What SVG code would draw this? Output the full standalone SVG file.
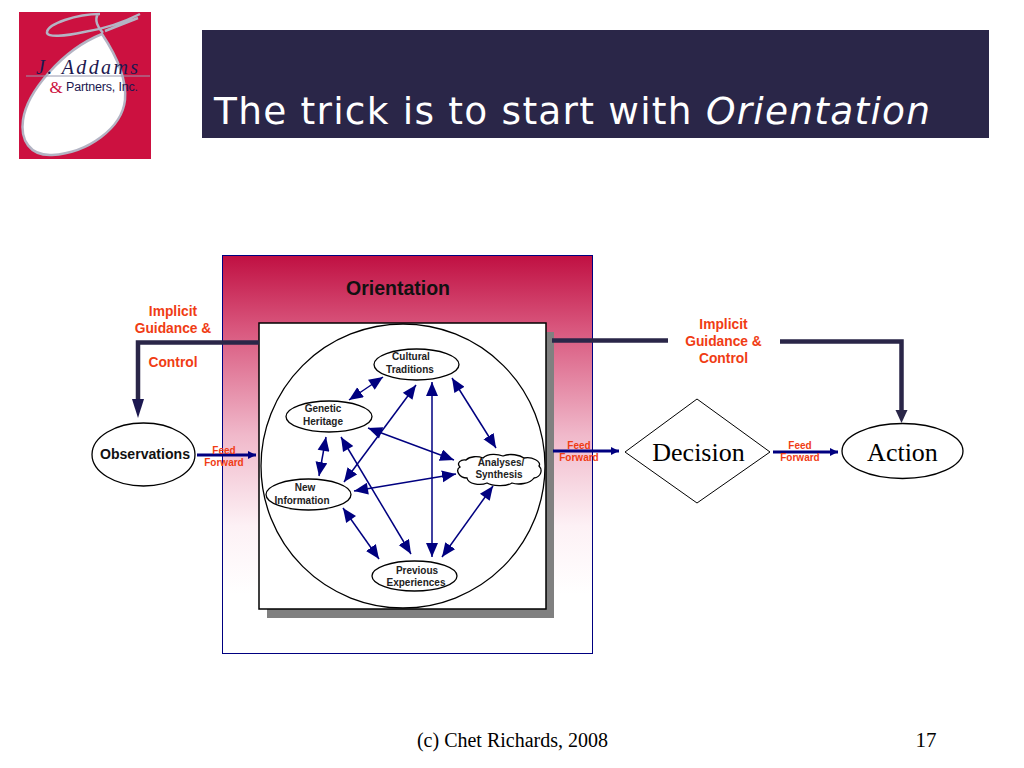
<svg xmlns="http://www.w3.org/2000/svg" width="1024" height="768" viewBox="0 0 1024 768">
<style>
.s{font-family:"Liberation Sans",Arial,sans-serif;font-weight:bold;text-anchor:middle}
.r{font-family:"Liberation Serif","Times New Roman",serif;text-anchor:middle;fill:#000}
.o{fill:#f03c14;font-size:13.800px}
.f{fill:#f03c14;font-size:10px}
.n{fill:#222;font-size:10px}
.e{fill:#fff;stroke:#000;stroke-width:1.300}
.a{stroke:#000080;stroke-width:1.500;fill:none;marker-start:url(#as);marker-end:url(#ae)}
.b{stroke:#000080;stroke-width:3;fill:none;marker-end:url(#bf)}
.g{stroke:#2a2648;stroke-width:4.500;fill:none}
</style>
<defs>
<linearGradient id="grad" x1="0" y1="0" x2="0" y2="1">
<stop offset="0" stop-color="#c01042"/><stop offset="0.18" stop-color="#d8557c"/><stop offset="0.45" stop-color="#f0b8ca"/><stop offset="0.68" stop-color="#fdf1f5"/><stop offset="0.85" stop-color="#ffffff"/>
</linearGradient>
<marker id="ae" markerUnits="userSpaceOnUse" markerWidth="16" markerHeight="13" refX="14" refY="6" orient="auto"><path d="M0 0L14 6L0 12z" fill="#000080"/></marker>
<marker id="as" markerUnits="userSpaceOnUse" markerWidth="16" markerHeight="13" refX="0" refY="6" orient="auto"><path d="M14 0L0 6L14 12z" fill="#000080"/></marker>
<marker id="bf" markerUnits="userSpaceOnUse" markerWidth="10" markerHeight="10" refX="8" refY="4" orient="auto"><path d="M0 0L8 4L0 8z" fill="#000080"/></marker>
</defs>
<g id="logo">
<rect x="19" y="12" width="132" height="147" fill="#cc1140"/>
<path d="M102 34C114 52 127 78 125 100C122 128 88 153 52 155C30 156 20 140 23 120C27 92 62 50 102 34Z" fill="#fff" stroke="#b4b4c4" stroke-width="2.500"/>
<path d="M140 14C120 24 104 29 84 32C66 36 46 38 47 32C48 24 76 14 100 14M98 14C94 20 98 28 103 33M105 31L138 18" fill="none" stroke="#b4b4c4" stroke-width="2.500"/>
<path d="M26 76H150" stroke="#9a9ab0" stroke-width="1"/>
<text x="87" y="73.500" font-family="Liberation Serif,serif" font-style="italic" font-size="20" fill="#1c1850" text-anchor="middle" textLength="102">J. Addams</text>
<text x="102" y="91" font-family="Liberation Sans,sans-serif" font-size="12.500" fill="#1c1850" text-anchor="middle" textLength="72">Partners, Inc.</text>
<text x="56" y="93" font-family="Liberation Serif,serif" font-size="17" fill="#cc1140" text-anchor="middle">&amp;</text>
</g>
<g id="title">
<rect x="202" y="30" width="787" height="108" fill="#2a2648"/>
<text x="214" y="124" font-family="DejaVu Sans,sans-serif" font-size="37.500" fill="#fff" textLength="716">The trick is to start with <tspan font-style="italic">Orientation</tspan></text>
</g>
<g id="orientation">
<rect x="222.500" y="255.500" width="370" height="398" fill="url(#grad)" stroke="#000080" stroke-width="1"/>
<text x="398" y="294.500" class="s" font-size="19.500" fill="#111">Orientation</text>
</g>
<g id="panel">
<rect x="267" y="332" width="287" height="286" fill="#808080"/>
<rect x="259" y="323" width="287" height="286" fill="#fff" stroke="#000" stroke-width="1.500"/>
<circle cx="403" cy="466" r="142" fill="#fff" stroke="#000" stroke-width="1.300"/>
</g>
<g id="connectors">
<path class="g" d="M259 342.500H138V404"/>
<path d="M132 399H144L138 418z" fill="#1c1850"/>
<path class="g" d="M552 340.500H668"/>
<path class="g" d="M780 341.500H901.500V412"/>
<path d="M895.500 410H907.500L901.500 423z" fill="#2a2648"/>
<path class="b" d="M197 455H256"/>
<path class="b" d="M553 451H619"/>
<path class="b" d="M773 452H838"/>
<path class="a" d="M383 377L349 400"/>
<path class="a" d="M452 378L496 448"/>
<path class="a" d="M432 382V557"/>
<path class="a" d="M416 385L344 482"/>
<path class="a" d="M368 428L454 460"/>
<path class="a" d="M326 437L319 476"/>
<path class="a" d="M341 437L411 554"/>
<path class="a" d="M354 491L456 474"/>
<path class="a" d="M343 508L379 559"/>
<path class="a" d="M493 486L442 557"/>
</g>
<g id="observations"><ellipse class="e" cx="143.500" cy="454.500" rx="51.500" ry="31.500"/><text class="s" x="145" y="459" font-size="14.100" fill="#111">Observations</text></g>
<g id="cultural"><ellipse class="e" cx="416.500" cy="364.500" rx="42.500" ry="15.500"/><text class="s n" x="411" y="360">Cultural</text><text class="s n" x="410" y="373">Traditions</text></g>
<g id="genetic"><ellipse class="e" cx="329" cy="416.500" rx="43" ry="15.500"/><text class="s n" x="323" y="412">Genetic</text><text class="s n" x="323" y="425">Heritage</text></g>
<g id="newinfo"><ellipse class="e" cx="308.500" cy="494.500" rx="42.500" ry="15.500"/><text class="s n" x="305" y="491">New</text><text class="s n" x="302" y="504">Information</text></g>
<g id="previous"><ellipse class="e" cx="414.500" cy="576" rx="42.500" ry="15"/><text class="s n" x="417" y="574">Previous</text><text class="s n" x="416" y="586">Experiences</text></g>
<g id="analyses"><path class="e" d="M466 460C470 456 478 456 483 458C488 453 498 454 503 456C510 453 520 455 524 458C532 456 542 462 539 466C543 470 541 477 534 478C530 484 518 485 512 483C506 487 492 486 487 483C480 486 468 484 467 478C459 478 455 470 460 467C456 463 461 459 466 460Z"/><text class="s n" x="501" y="466">Analyses/</text><text class="s n" x="499" y="478">Synthesis</text></g>
<g id="decision"><path d="M697 399L770 452L697 503L625 452Z" fill="#fff" stroke="#000" stroke-width="1"/><text class="r" x="698.500" y="461" font-size="26">Decision</text></g>
<g id="action"><ellipse class="e" cx="902.500" cy="451" rx="60.500" ry="27.500"/><text class="r" x="902.500" y="461" font-size="26">Action</text></g>
<g id="labels">
<text class="s o" x="173" y="315.500">Implicit</text><text class="s o" x="173" y="332.500">Guidance &amp;</text><text class="s o" x="173" y="366.500">Control</text>
<text class="s o" x="723.500" y="328.500">Implicit</text><text class="s o" x="723.500" y="345.500">Guidance &amp;</text><text class="s o" x="723.500" y="363">Control</text>
<text class="s f" x="224" y="453.500">Feed</text><text class="s f" x="224" y="465.500">Forward</text>
<text class="s f" x="579" y="449">Feed</text><text class="s f" x="579" y="461">Forward</text>
<text class="s f" x="800" y="449">Feed</text><text class="s f" x="800" y="461">Forward</text>
</g>
<g id="footer">
<text class="r" x="512.500" y="747" font-size="20">(c) Chet Richards, 2008</text>
<text class="r" x="926" y="747" font-size="21">17</text>
</g>
</svg>
